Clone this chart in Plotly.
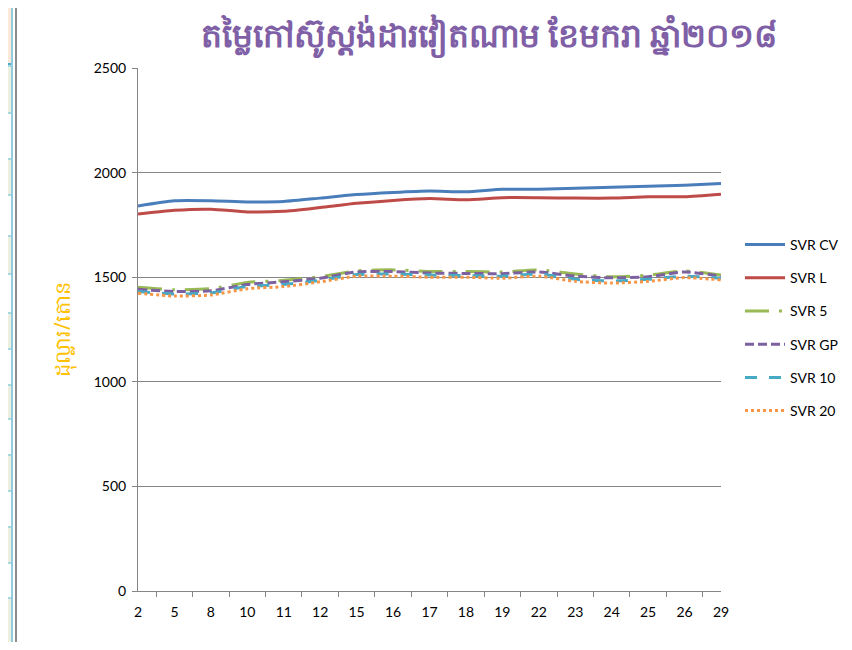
import plotly.graph_objects as go

days = ["2", "5", "8", "10", "11", "12", "15", "16", "17", "18", "19", "22", "23", "24", "25", "26", "29"]

svr_cv = [1840, 1865, 1865, 1860, 1862, 1878, 1895, 1905, 1912, 1908, 1920, 1920, 1925, 1930, 1935, 1940, 1948]
svr_l = [1802, 1820, 1825, 1812, 1815, 1833, 1853, 1867, 1876, 1870, 1880, 1880, 1878, 1878, 1884, 1885, 1897]
svr_5 = [1452, 1440, 1445, 1475, 1485, 1502, 1530, 1535, 1527, 1527, 1525, 1535, 1515, 1502, 1510, 1530, 1510]
svr_gp = [1442, 1432, 1435, 1465, 1478, 1495, 1525, 1527, 1520, 1518, 1517, 1525, 1505, 1497, 1502, 1525, 1505]
svr_10 = [1432, 1420, 1425, 1455, 1465, 1485, 1513, 1515, 1510, 1508, 1505, 1515, 1490, 1482, 1490, 1505, 1495]
svr_20 = [1423, 1410, 1415, 1445, 1455, 1478, 1505, 1505, 1500, 1500, 1495, 1505, 1480, 1472, 1480, 1498, 1487]

series = [
    ("SVR CV", svr_cv, "#4A7EBB", "solid"),
    ("SVR L", svr_l, "#BE4B48", "solid"),
    ("SVR 5", svr_5, "#98B954", "24px,10px,3px,10px"),
    ("SVR GP", svr_gp, "#7D60A0", "9px,4px"),
    ("SVR 10", svr_10, "#46AAC5", "12px,12px"),
    ("SVR 20", svr_20, "#F79646", "dot"),
]

fig = go.Figure()
for name, vals, color, dash in series:
    fig.add_trace(go.Scatter(
        x=days, y=vals, name=name, mode="lines", legendgroup=name,
        line=dict(color=color, width=3, dash=dash, shape="spline", smoothing=0.6),
    ))

# page body has an 8px margin; work in figure pixel coordinates (screen - 8)
OFF = 8
W, H = 852 - 2 * OFF, 650 - 2 * OFF
L, T = 138 - OFF, 68 - OFF
R = W - (721 - OFF)
B = H - (591 - OFF)
pw, ph = W - L - R, H - T - B


def px_x(p):
    return (p - OFF - L) / pw


def px_y(p):
    return (H - B - (p - OFF)) / ph


shapes = []
# spreadsheet strip on the left
shapes.append(dict(type="rect", xref="paper", yref="paper", x0=px_x(0), x1=px_x(12), y0=px_y(64), y1=px_y(4),
                   fillcolor="#FCE9DA", line=dict(color="#4BACC6", width=2), layer="below"))
for y0, y1 in [(66, 113), (159, 195), (236, 274), (313, 349), (385, 419), (455, 491), (527, 563), (598, 646)]:
    shapes.append(dict(type="rect", xref="paper", yref="paper", x0=px_x(0), x1=px_x(12), y0=px_y(y1), y1=px_y(y0),
                       fillcolor="#EBF1DE", line=dict(color="#93CDDD", width=1.5), layer="below"))
shapes.append(dict(type="line", xref="paper", yref="paper", x0=px_x(12), x1=px_x(12), y0=px_y(650), y1=px_y(0),
                   line=dict(color="#93CDDD", width=2)))
# chart border
shapes.append(dict(type="line", xref="paper", yref="paper", x0=px_x(16), x1=px_x(16), y0=px_y(650), y1=px_y(3),
                   line=dict(color="#8C8C8C", width=2)))
shapes.append(dict(type="line", xref="paper", yref="paper", x0=px_x(16), x1=px_x(852), y0=px_y(3), y1=px_y(3),
                   line=dict(color="#8C8C8C", width=2)))

fig.update_layout(
    width=W, height=H,
    margin=dict(l=L, r=R, t=T, b=B, autoexpand=False),
    paper_bgcolor="white", plot_bgcolor="white",
    font=dict(family="Lato, Liberation Sans, Arial, sans-serif", size=14, color="#000000"),
    title=dict(text="<b>តម្លៃកៅស៊ូស្តង់ដារវៀតណាម ខែមករា ឆ្នាំ២០១៨</b>",
               x=(489 - OFF) / W, xanchor="center", y=1 - (35 - OFF) / H, yanchor="middle",
               font=dict(size=33, color="#7F5FA6", family="Noto Sans, sans-serif")),
    showlegend=True,
    legend=dict(xref="container", yref="container", x=(740 - OFF) / W, y=1 - (229 - OFF) / H,
                xanchor="left", yanchor="top",
                font=dict(size=14), tracegroupgap=12, itemwidth=40,
                bgcolor="rgba(0,0,0,0)"),
    shapes=shapes,
)

fig.update_xaxes(
    type="category", showgrid=False, showline=True, linecolor="#868686", linewidth=1,
    ticks="outside", tickson="boundaries", ticklen=5, tickcolor="#868686",
    tickfont=dict(size=14), zeroline=False, ticklabelstandoff=8,
)
fig.update_yaxes(
    range=[0, 2500], tickvals=[0, 500, 1000, 1500, 2000, 2500], showgrid=True, gridcolor="#868686", gridwidth=1,
    showline=True, linecolor="#868686", linewidth=1, ticks="outside", ticklen=5, tickcolor="#868686",
    tickfont=dict(size=14), zeroline=False, ticklabelstandoff=3,
    title=dict(text="ដុល្លារ/តោន", font=dict(size=21, color="#FFC000", family="Noto Sans, sans-serif"), standoff=17),
)

fig.write_html("out.html")
